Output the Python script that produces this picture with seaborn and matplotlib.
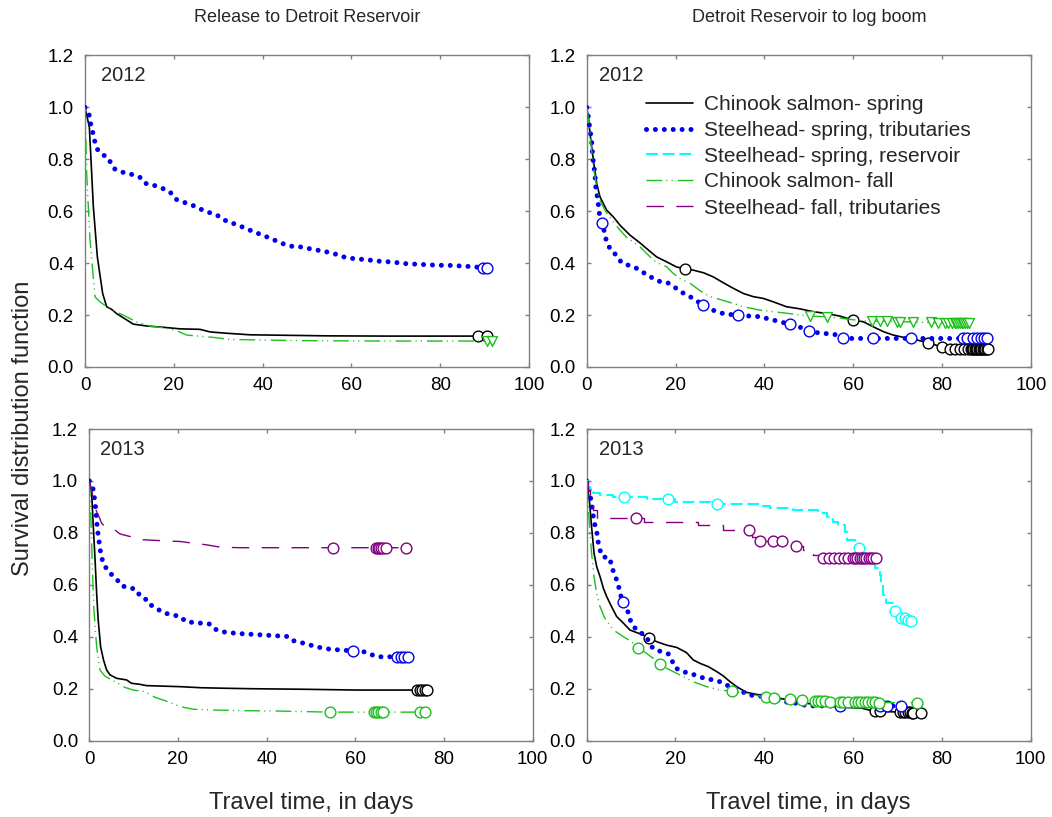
import numpy as np
import pandas as pd
import matplotlib
matplotlib.use("Agg")
import matplotlib.pyplot as plt
from matplotlib.lines import Line2D
import seaborn as sns

# ---------------------------------------------------------------------------
# Kaplan-Meier survival estimates: curve knots (time in days, survival) and
# censoring times for each group, by year and reach.
# ---------------------------------------------------------------------------

# 2012, release to Detroit Reservoir
r12_chs_t = [0, 0.98, 1.88, 2.78, 3.98, 4.88, 6.0, 7.1, 9.4, 10.9, 13.9, 17.6, 21.4, 25.9, 28.2, 31.9, 37.2, 54.4, 68.7, 90.6]
r12_chs_s = [1.0, 0.924, 0.617, 0.424, 0.283, 0.232, 0.222, 0.206, 0.181, 0.165, 0.158, 0.153, 0.147, 0.145, 0.135, 0.130, 0.124, 0.120, 0.119, 0.119]
r12_chs_c = [88.4, 90.6]

r12_sst_t = [0, 0.9, 1.1, 1.58, 1.9, 2.3, 2.85, 3.98, 5.26, 5.86, 6.68, 8.2, 9.9, 11.5, 12.8, 13.8, 15.5, 17.0, 18.5, 19.6,
             20.5, 21.9, 24.8, 26.3, 27.8, 29.3, 30.7, 31.9, 33.4, 34.8, 36.3, 37.7, 39.2, 40.7, 42.2, 43.6, 45.0, 46.6, 48.4, 52.0,
             53.7, 55.3, 57.0, 58.6, 60.3, 64.0, 65.8, 69.6, 71.3, 79.2, 83.2, 85.2, 87.2, 89.0, 90.6]
r12_sst_s = [1.0, 0.976, 0.946, 0.92, 0.888, 0.863, 0.837, 0.818, 0.806, 0.783, 0.763, 0.751, 0.746, 0.735, 0.728, 0.706, 0.700, 0.691, 0.681, 0.667,
             0.646, 0.637, 0.619, 0.606, 0.596, 0.588, 0.576, 0.561, 0.553, 0.544, 0.533, 0.523, 0.513, 0.503, 0.492, 0.482, 0.472, 0.465, 0.463, 0.451,
             0.446, 0.440, 0.432, 0.422, 0.418, 0.412, 0.408, 0.404, 0.399, 0.392, 0.391, 0.388, 0.387, 0.383, 0.383]
r12_sst_c = [89.7, 90.6]

r12_chf_t = [0, 0.38, 1.13, 2.25, 3.38, 4.9, 6.4, 8.6, 11.6, 14.6, 18.4, 20.6, 22.9, 28.9, 32.7, 39.4, 51.4, 70.0, 91.6]
r12_chf_s = [1.0, 0.745, 0.488, 0.27, 0.251, 0.232, 0.217, 0.2, 0.174, 0.158, 0.149, 0.14, 0.123, 0.114, 0.106, 0.104, 0.101, 0.100, 0.100]
r12_chf_c = [90.6, 91.6]

# 2012, Detroit Reservoir to log boom
d12_chs_t = [0, 0.375, 0.75, 1.5, 2.25, 3.0, 4.5, 6.0, 7.5, 9.75, 12.0, 13.5, 15.75, 18.0, 20.25, 24.0, 26.3, 28.5, 30.8, 33.0,
             35.3, 37.5, 39.8, 42.0, 45.0, 48.0, 51.0, 54.0, 57.0, 59.5, 62.3, 64.5, 66.8, 69.0, 71.6, 74.3, 76.0, 78.5, 79.5, 82.5, 90.4]
d12_chs_s = [1.0, 0.963, 0.899, 0.796, 0.706, 0.655, 0.604, 0.578, 0.546, 0.508, 0.478, 0.456, 0.424, 0.405, 0.385, 0.373, 0.363, 0.347, 0.324, 0.303,
             0.283, 0.271, 0.264, 0.251, 0.232, 0.224, 0.213, 0.206, 0.196, 0.183, 0.174, 0.155, 0.136, 0.123, 0.113, 0.104, 0.097, 0.085, 0.078, 0.068, 0.068]
d12_chs_c = [22.1, 59.9, 76.9, 79.9, 81.8, 83.0, 84.0, 85.0, 85.8, 86.4, 86.7, 87.0, 87.3, 87.6, 87.9, 88.2, 88.5, 88.8, 89.1, 89.4, 89.7, 90.0, 90.4]

d12_sst_t = [0, 0.375, 0.75, 1.1, 1.35, 1.65, 1.9, 2.1, 2.4, 2.6, 3.0, 3.75, 4.1, 4.5, 5.25, 6.0, 6.75, 7.9, 10.9, 12.4,
             13.5, 14.6, 16.1, 18.4, 19.9, 21.0, 22.5, 24.0, 25.1, 26.0, 27.4, 29.3, 31.1, 36.8, 39.0, 40.5, 42.0, 43.9, 45.5, 47.6,
             48.4, 49.8, 52.0, 53.6, 55.5, 57.0, 57.6, 90.2]
d12_sst_s = [1.0, 0.963, 0.912, 0.873, 0.809, 0.771, 0.732, 0.681, 0.655, 0.629, 0.568, 0.540, 0.508, 0.482, 0.456, 0.444, 0.427, 0.401, 0.383, 0.369,
             0.354, 0.345, 0.331, 0.323, 0.306, 0.292, 0.277, 0.264, 0.251, 0.238, 0.226, 0.213, 0.204, 0.196, 0.194, 0.187, 0.181, 0.172, 0.168, 0.159,
             0.149, 0.140, 0.132, 0.129, 0.127, 0.119, 0.110, 0.110]
d12_sst_c = [3.4, 26.1, 34.1, 45.8, 50.1, 57.8, 64.5, 72.9, 84.8, 85.7, 87.0, 87.9, 88.7, 89.4, 90.2]

d12_chf_t = [0, 0.6, 1.1, 1.5, 2.25, 3.0, 4.1, 4.9, 6.0, 7.5, 9.0, 10.5, 12.0, 13.5, 15.0, 16.5, 18.0, 19.5, 21.0, 23.3,
             25.5, 27.8, 30.0, 33.0, 35.3, 39.0, 42.0, 46.5, 50.0, 53.5, 57.5, 62.0, 72.0, 78.5, 86.0]
d12_chf_s = [1.0, 0.924, 0.835, 0.771, 0.694, 0.642, 0.604, 0.585, 0.559, 0.527, 0.499, 0.482, 0.463, 0.437, 0.412, 0.396, 0.386, 0.360, 0.341, 0.322,
             0.294, 0.271, 0.260, 0.245, 0.232, 0.219, 0.213, 0.204, 0.196, 0.194, 0.187, 0.178, 0.174, 0.171, 0.171]
d12_chf_c = [50.3, 54.0, 64.2, 66.0, 67.5, 69.8, 70.5, 73.5, 77.6, 79.1, 80.6, 81.4, 82.2, 82.8, 83.2, 83.6, 84.0, 84.4, 84.8, 85.2, 85.6, 86.0]

# 2013, release to Detroit Reservoir
r13_chs_t = [0, 0.53, 0.9, 1.3, 1.65, 2.0, 2.55, 3.2, 3.9, 4.7, 6.2, 8.4, 9.5, 11.4, 12.9, 20.5, 25.0, 30.2, 37.0, 48.3, 60.3, 76.1]
r13_chs_s = [1.0, 0.953, 0.824, 0.696, 0.567, 0.465, 0.362, 0.311, 0.272, 0.253, 0.240, 0.234, 0.221, 0.217, 0.212, 0.208, 0.204, 0.202, 0.200, 0.198, 0.195, 0.195]
r13_chs_c = [74.0, 74.6, 75.1, 75.6, 76.1]

r13_sst_t = [0, 0.75, 1.05, 1.3, 1.5, 1.65, 1.8, 2.05, 2.3, 2.55, 2.9, 3.5, 4.3, 5.4, 6.3, 7.3, 10.5, 11.3, 12.6, 13.3,
             14.7, 15.9, 17.3, 20.5, 21.8, 27.2, 28.3, 29.7, 33.2, 35.3, 44.9, 46.0, 47.9, 49.4, 50.9, 54.3, 61.8, 63.5, 65.0, 71.9]
r13_sst_s = [1.0, 0.978, 0.946, 0.914, 0.882, 0.85, 0.818, 0.786, 0.754, 0.724, 0.698, 0.673, 0.651, 0.634, 0.619, 0.596, 0.583, 0.561, 0.548, 0.526,
             0.516, 0.501, 0.490, 0.478, 0.458, 0.449, 0.430, 0.420, 0.413, 0.411, 0.401, 0.385, 0.377, 0.371, 0.362, 0.352, 0.343, 0.332, 0.323, 0.323]
r13_sst_c = [59.5, 69.5, 70.2, 70.9, 71.9]

r13_chf_t = [0, 0.3, 0.53, 0.75, 1.05, 1.65, 2.4, 3.5, 5.0, 6.5, 8.05, 9.9, 12.6, 14.8, 17.1, 18.6, 20.5, 23.5, 28.0, 33.2, 43.0, 54.0, 75.7]
r13_chf_s = [1.0, 0.888, 0.76, 0.632, 0.503, 0.362, 0.272, 0.249, 0.234, 0.221, 0.205, 0.195, 0.189, 0.167, 0.154, 0.144, 0.131, 0.121, 0.118, 0.116, 0.114, 0.110, 0.110]
r13_chf_c = [54.3, 64.1, 64.7, 65.2, 65.7, 66.3, 74.6, 75.7]

r13_sft_t = [0, 0.53, 0.9, 1.5, 2.0, 2.8, 3.5, 4.7, 5.8, 6.9, 9.2, 11.1, 12.9, 17.4, 20.5, 23.5, 26.5, 29.5, 34.0, 71.4]
r13_sft_s = [1.0, 0.965, 0.92, 0.888, 0.869, 0.837, 0.824, 0.818, 0.811, 0.796, 0.786, 0.775, 0.773, 0.769, 0.767, 0.76, 0.754, 0.745, 0.743, 0.743]
r13_sft_c = [55.0, 64.7, 65.0, 65.3, 65.8, 66.3, 66.9, 71.4]

# 2013, Detroit Reservoir to log boom
d13_chs_t = [0, 0.6, 1.1, 1.65, 2.25, 3.0, 3.75, 4.5, 5.6, 6.75, 8.3, 9.75, 11.3, 12.8, 13.5, 15.8, 18.0, 20.3, 21.4, 22.5,
             24.0, 25.5, 27.4, 29.3, 30.8, 32.3, 33.8, 36.0, 39.0, 43.5, 49.5, 55.6, 62.0, 64.5, 74.0, 75.3]
d13_chs_s = [1.0, 0.927, 0.824, 0.722, 0.67, 0.632, 0.587, 0.555, 0.516, 0.478, 0.452, 0.426, 0.416, 0.407, 0.397, 0.381, 0.368, 0.359, 0.349, 0.339,
             0.311, 0.298, 0.285, 0.266, 0.249, 0.227, 0.208, 0.186, 0.176, 0.163, 0.144, 0.131, 0.125, 0.114, 0.108, 0.108]
d13_chs_c = [14.0, 64.9, 66.1, 70.6, 71.2, 71.8, 72.3, 72.8, 73.2, 73.5, 75.3]

d13_sst_t = [0, 0.4, 0.75, 1.1, 1.35, 1.65, 2.0, 2.4, 2.6, 3.0, 3.5, 5.25, 5.6, 6.2, 6.9, 7.4, 8.0, 9.0, 9.4, 9.8,
             10.5, 11.3, 12.4, 13.5, 14.3, 15.4, 16.9, 18.4, 19.1, 19.9, 21.0, 22.5, 24.4, 27.0, 28.9, 30.0, 31.5, 33.0, 34.9, 36.0,
             40.5, 44.4, 47.3, 49.8, 70.0, 70.9]
d13_sst_s = [1.0, 0.978, 0.946, 0.914, 0.878, 0.847, 0.818, 0.792, 0.763, 0.734, 0.709, 0.702, 0.670, 0.644, 0.612, 0.580, 0.535, 0.516, 0.488, 0.465,
             0.443, 0.424, 0.413, 0.400, 0.368, 0.349, 0.343, 0.334, 0.313, 0.282, 0.270, 0.262, 0.253, 0.237, 0.234, 0.227, 0.214, 0.205, 0.193, 0.177,
             0.169, 0.150, 0.144, 0.134, 0.134, 0.134]
d13_sst_c = [8.1, 57.1, 66.1, 67.6, 70.9]

d13_ssr_t = [0, 0.4, 0.75, 1.5, 3.0, 6.0, 13.5, 19.9, 28.0, 39.8, 41.3, 46.5, 52.2, 54.1, 55.6, 56.7, 58.2, 58.6, 60.5, 62.7,
             63.8, 64.9, 66.1, 66.4, 66.8, 67.4, 69.0, 70.5, 72.2, 73.0]
d13_ssr_s = [1.0, 0.978, 0.959, 0.952, 0.945, 0.937, 0.929, 0.920, 0.910, 0.904, 0.895, 0.888, 0.878, 0.863, 0.843, 0.831, 0.805, 0.773, 0.743, 0.709,
             0.689, 0.664, 0.638, 0.606, 0.561, 0.529, 0.501, 0.471, 0.465, 0.460]
d13_ssr_c = [8.3, 18.4, 29.3, 61.4, 69.4, 70.9, 71.7, 72.4, 73.0]

d13_chf_t = [0, 0.4, 0.75, 1.1, 1.65, 2.25, 3.0, 4.1, 6.0, 8.3, 10.1, 11.3, 13.5, 15.0, 16.2, 18.0, 21.0, 24.0, 27.0, 30.0,
             32.5, 36.0, 40.0, 44.0, 47.5, 50.5, 56.5, 74.5]
d13_chf_s = [1.0, 0.888, 0.798, 0.722, 0.632, 0.567, 0.516, 0.471, 0.426, 0.400, 0.381, 0.362, 0.336, 0.317, 0.298, 0.279, 0.253, 0.227, 0.208, 0.195,
             0.191, 0.182, 0.169, 0.163, 0.159, 0.154, 0.148, 0.146]
d13_chf_c = [11.6, 16.5, 32.7, 40.5, 42.2, 45.9, 48.4, 51.4, 52.1, 52.9, 53.6, 54.8, 57.1, 57.8, 58.9, 60.4, 61.2, 61.9, 62.7, 63.4, 64.2, 64.9, 65.9, 74.5]

d13_sft_t = [0, 0.4, 0.75, 1.35, 2.3, 13.0, 25.0, 30.8, 37.3, 38.5, 45.0, 46.8, 48.8, 51.0, 53.0, 65.2]
d13_sft_s = [1.0, 0.965, 0.927, 0.888, 0.856, 0.841, 0.831, 0.811, 0.786, 0.768, 0.762, 0.751, 0.734, 0.715, 0.703, 0.703]
d13_sft_c = [11.1, 36.6, 39.0, 42.0, 44.0, 47.1, 53.3, 54.6, 55.8, 56.9, 57.9, 58.9, 59.9, 60.5, 61.0, 61.5, 62.0, 62.5,
             63.0, 63.5, 64.0, 64.5, 65.2]

group_names = ["Chinook salmon- spring", "Steelhead- spring, tributaries", "Steelhead- spring, reservoir",
               "Chinook salmon- fall", "Steelhead- fall, tributaries"]
reach_titles = ["Release to Detroit Reservoir", "Detroit Reservoir to log boom"]
year_labels = ["2012", "2013"]
x_ticks = [0, 20, 40, 60, 80, 100]
y_ticks = [0.0, 0.2, 0.4, 0.6, 0.8, 1.0, 1.2]

# ---------------------------------------------------------------------------
# Styling
# ---------------------------------------------------------------------------
sns.set_style("ticks")
plt.rcParams["font.family"] = ["Liberation Sans", "DejaVu Sans"]
plt.rcParams["lines.scale_dashes"] = False

BLUE = "#0000EE"
CYAN = "#00FFFF"
GREEN = "#1DBF1D"
PURPLE = "#800080"
FRAME = "#808080"

line_styles = {
    group_names[0]: dict(color="black", linewidth=1.2, linestyle="-"),
    group_names[1]: dict(color=BLUE, linewidth=3.6, linestyle=(0, (0.01, 6.4)), dash_capstyle="round"),
    group_names[2]: dict(color=CYAN, linewidth=1.5, linestyle=(0, (8.5, 3.5))),
    group_names[3]: dict(color=GREEN, linewidth=1.0, linestyle=(0, (11.3, 3.0, 0.8, 3.0, 0.8, 3.6))),
    group_names[4]: dict(color=PURPLE, linewidth=1.0, linestyle=(0, (12.5, 9.0))),
}
draw_order = {name: k for k, name in enumerate(group_names)}

# Each group: (name, times, survival, censor times, censor marker, drawn as steps?)
panels = [
    dict(rect=[0.0808, 0.5508, 0.4221, 0.3813], year=0, year_x=0.037,
         groups=[(group_names[0], r12_chs_t, r12_chs_s, r12_chs_c, "o", False),
                 (group_names[1], r12_sst_t, r12_sst_s, r12_sst_c, "o", False),
                 (group_names[3], r12_chf_t, r12_chf_s, r12_chf_c, "v", False)]),
    dict(rect=[0.5577, 0.5508, 0.4223, 0.3813], year=0, year_x=0.028,
         groups=[(group_names[0], d12_chs_t, d12_chs_s, d12_chs_c, "o", False),
                 (group_names[1], d12_sst_t, d12_sst_s, d12_sst_c, "o", False),
                 (group_names[3], d12_chf_t, d12_chf_s, d12_chf_c, "v", False)]),
    dict(rect=[0.0849, 0.0934, 0.4215, 0.3815], year=1, year_x=0.025,
         groups=[(group_names[0], r13_chs_t, r13_chs_s, r13_chs_c, "o", False),
                 (group_names[1], r13_sst_t, r13_sst_s, r13_sst_c, "o", False),
                 (group_names[3], r13_chf_t, r13_chf_s, r13_chf_c, "o", False),
                 (group_names[4], r13_sft_t, r13_sft_s, r13_sft_c, "o", False)]),
    dict(rect=[0.5577, 0.0934, 0.4219, 0.3815], year=1, year_x=0.028,
         groups=[(group_names[0], d13_chs_t, d13_chs_s, d13_chs_c, "o", False),
                 (group_names[1], d13_sst_t, d13_sst_s, d13_sst_c, "o", False),
                 (group_names[2], d13_ssr_t, d13_ssr_s, d13_ssr_c, "o", True),
                 (group_names[3], d13_chf_t, d13_chf_s, d13_chf_c, "o", False),
                 (group_names[4], d13_sft_t, d13_sft_s, d13_sft_c, "o", True)]),
]


def survival_at(t_knots, s_knots, times, steps):
    """Curve value at the given times (step function or straight segments)."""
    t_knots = np.asarray(t_knots, float)
    s_knots = np.asarray(s_knots, float)
    times = np.asarray(times, float)
    if not steps:
        return np.interp(times, t_knots, s_knots)
    idx = np.searchsorted(t_knots, times, side="right") - 1
    return s_knots[np.clip(idx, 0, len(s_knots) - 1)]


fig = plt.figure(figsize=(10.52, 8.17), dpi=100)
axes = []
for p in panels:
    ax = fig.add_axes(p["rect"])
    axes.append(ax)
    for name, t, s, c, mk, steps in p["groups"]:
        assert len(t) == len(s), name
        st = line_styles[name]
        z = 2 + 2 * draw_order[name]
        curve = pd.DataFrame({"days": t, "survival": s})
        sns.lineplot(data=curve, x="days", y="survival", ax=ax, estimator=None, sort=False,
                     drawstyle="steps-post" if steps else "default", zorder=z, legend=False, **st)
        cens = pd.DataFrame({"days": c, "survival": survival_at(t, s, c, steps)})
        sns.scatterplot(data=cens, x="days", y="survival", ax=ax, marker=mk,
                        s=60 if mk == "o" else 50, facecolor="white", edgecolor=st["color"],
                        linewidth=1.0, zorder=z + 1, legend=False)

    ax.set_xlim(0, 100)
    ax.set_ylim(0, 1.2)
    ax.set_xticks(x_ticks)
    ax.set_xticklabels([f"{v:d}" for v in x_ticks])
    ax.set_yticks(y_ticks)
    ax.set_yticklabels([f"{v:.1f}" for v in y_ticks])
    ax.set_xlabel("")
    ax.set_ylabel("")
    ax.tick_params(axis="both", direction="in", top=True, right=True, length=3.0, width=1.0,
                   color=FRAME, labelcolor="black", labelsize=13.5)
    ax.tick_params(axis="x", pad=7.5)
    ax.tick_params(axis="y", pad=8)
    for sp in ax.spines.values():
        sp.set_visible(True)
        sp.set_color(FRAME)
        sp.set_linewidth(1.0)
    ax.text(p["year_x"], 0.935, year_labels[p["year"]], transform=ax.transAxes,
            ha="left", va="center", fontsize=14.5)

# Reach titles above the columns
fig.text(0.2918, 1 - 17 / 817, reach_titles[0], ha="center", va="center", fontsize=13)
fig.text(0.7688, 1 - 17 / 817, reach_titles[1], ha="center", va="center", fontsize=13)

# Shared axis titles
for xc in (0.2956, 0.7687):
    fig.text(xc, 1 - 809 / 817, "Travel time, in days", ha="center", va="baseline", fontsize=17)
fig.text(23 / 1052, 1 - 428 / 817, "Survival distribution function", rotation=90,
         ha="center", va="center", fontsize=17)

# Legend of line styles in the upper-right panel
handles = [Line2D([], [], **line_styles[n]) for n in group_names]
leg = axes[1].legend(handles, group_names, loc="upper left", bbox_to_anchor=(0.1335, 0.872),
                     frameon=False, fontsize=15, handlelength=2.27, handletextpad=0.53,
                     labelspacing=0.32, borderpad=0, borderaxespad=0)

fig.savefig("out.png", dpi=100)
